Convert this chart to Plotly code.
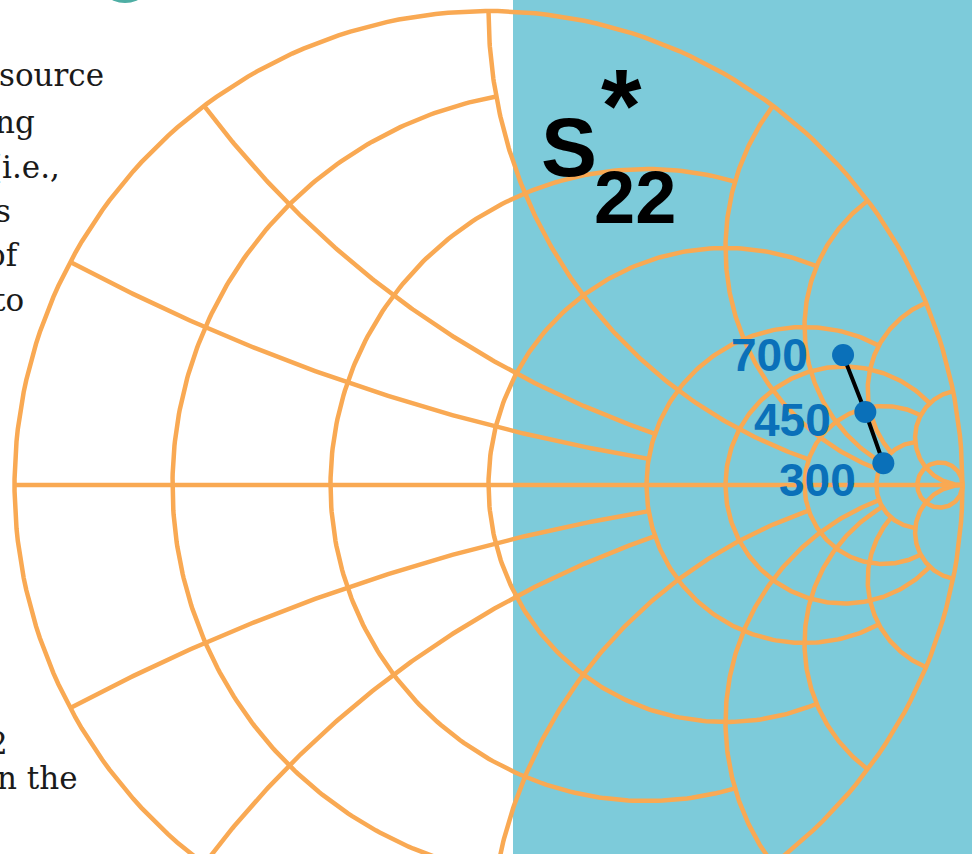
import numpy as np
import plotly.graph_objects as go

# ---------------- data ----------------
# Smith-chart grid: constant-resistance circles and the reactance value at which each stops
r_values = [0.0, 0.2, 0.5, 1.0, 2.0, 3.0, 5.0, 10.0, 20.0]
r_reactance_limit = [np.inf, 1.0, 2.0, 3.0, 5.0, 10.0, 10.0, 10.0, np.inf]
# constant-reactance arcs and the resistance at which each stops
x_values = [0.25, 0.5, 1.0, 2.0, 3.0, 5.0, 10.0]
x_resistance_limit = [2.0, 2.0, 5.0, 10.0, 10.0, 10.0, np.inf]

# S22* (conjugate) reflection coefficient, by frequency in MHz
freq_labels = ["300", "450", "700"]
s22_real = [0.833, 0.795, 0.748]
s22_imag = [0.046, 0.154, 0.274]

# left-column text fragments (cut paragraph)
side_text = ["source", "ng", "(i.e.,", "s", "of", "to", "2", "n the"]

# ---------------- geometry helpers ----------------
W, H = 972, 854
CX, CY, R = 488.5, 485.0, 474.0   # pixel centre / radius of the chart


def px(xp):
    return (xp - CX) / R


def py(yp):
    return (CY - yp) / R


def gamma(z):
    return (z - 1) / (z + 1)


def r_circle(r, xlim, n=240):
    c = r / (1 + r)
    rad = 1 / (1 + r)
    if np.isinf(xlim):
        th = np.linspace(0, 2 * np.pi, n)
    else:
        g = gamma(r + 1j * xlim)
        t1 = np.angle(g - c)
        th = np.linspace(t1, 2 * np.pi - t1, n)
    return c + rad * np.exp(1j * th)


def x_arc(x, rlim, n=200):
    c = 1 + 1j / x
    g0 = gamma(0 + 1j * x)
    g1 = 1 + 0j if np.isinf(rlim) else gamma(rlim + 1j * x)
    a0 = np.angle(g0 - c)
    a1 = np.angle(g1 - c)
    d = (a1 - a0 + np.pi) % (2 * np.pi) - np.pi
    a = a0 + d * np.linspace(0, 1, n)
    return c + (1 / abs(x)) * np.exp(1j * a)


gx, gy = [], []
for r, xl in zip(r_values, r_reactance_limit):
    p = r_circle(r, xl)
    gx += list(p.real) + [None]
    gy += list(p.imag) + [None]
for x, rl in zip(x_values, x_resistance_limit):
    for s in (1, -1):
        p = x_arc(s * x, rl)
        gx += list(p.real) + [None]
        gy += list(p.imag) + [None]
# real axis
gx += [-1, 1, None]
gy += [0, 0, None]

GRID = "#F9A953"
BLUE_BG = "#7DCBDA"
MARK = "#0A70B9"

fig = go.Figure()
fig.add_trace(go.Scatter(x=gx, y=gy, mode="lines",
                         line=dict(color=GRID, width=4.5), hoverinfo="skip",
                         showlegend=False))
fig.add_trace(go.Scatter(x=s22_real, y=s22_imag, mode="lines+markers",
                         line=dict(color="black", width=4),
                         marker=dict(size=22, color=MARK),
                         showlegend=False))

# frequency labels
label_pos = {"300": (858, 480), "450": (833, 420), "700": (810, 355)}
for lab in freq_labels:
    xr, yc = label_pos[lab]
    fig.add_annotation(x=px(xr), y=py(yc), text=lab, showarrow=False,
                       xanchor="right", yanchor="middle",
                       font=dict(family="Liberation Sans", size=46, color=MARK,
                                 weight="bold"))

# S22* title
fig.add_annotation(x=px(569), y=py(147), text="S", showarrow=False,
                   xanchor="center", yanchor="middle",
                   font=dict(family="Liberation Sans", size=84, color="black", weight="bold"))
fig.add_annotation(x=px(635), y=py(197), text="22", showarrow=False,
                   xanchor="center", yanchor="middle",
                   font=dict(family="Liberation Sans", size=74, color="black", weight="bold"))
fig.add_annotation(x=px(621), y=py(106), text="*", showarrow=False,
                   xanchor="center", yanchor="middle",
                   font=dict(family="Liberation Sans", size=104, color="black", weight="bold"))

# left column paragraph fragments
side_pos = [(106, 78), (37, 125), (62, 170), (13, 214), (22, 258), (26, 303),
            (10, 746), (80, 781)]
for t, (xr, yc) in zip(side_text, side_pos):
    fig.add_annotation(x=px(xr), y=py(yc - 3), text=t, showarrow=False,
                       xanchor="right", yanchor="middle",
                       font=dict(family="DejaVu Serif", size=31, color="#1a1a1a"))

# background panel and teal dot
fig.add_shape(type="rect", x0=px(513), x1=px(980), y0=py(-10), y1=py(870),
              fillcolor=BLUE_BG, line=dict(width=0), layer="below")
fig.add_shape(type="circle", x0=px(125 - 30), x1=px(125 + 30), y0=py(-27 + 30),
              y1=py(-27 - 30), fillcolor="#4EAEA4", line=dict(width=0), layer="below")

fig.update_layout(
    width=W, height=H, margin=dict(l=0, r=0, t=0, b=0),
    paper_bgcolor="white", plot_bgcolor="white",
    xaxis=dict(range=[px(0), px(W)], visible=False, fixedrange=True),
    yaxis=dict(range=[py(H), py(0)], visible=False, fixedrange=True),
    showlegend=False,
)

fig.write_html("out.html", config={"displayModeBar": False},
               post_script="document.body.style.margin='0';document.body.style.overflow='hidden';")
